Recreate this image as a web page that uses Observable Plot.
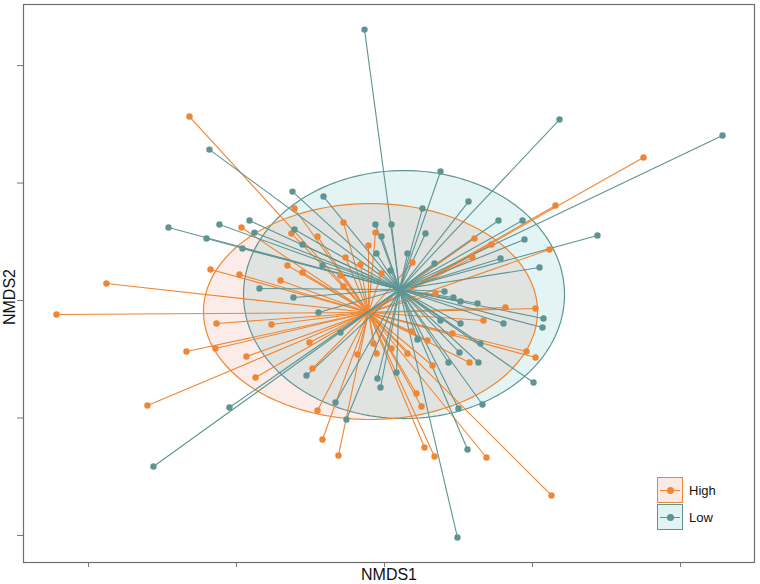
<!DOCTYPE html>
<html>
<head>
<meta charset="utf-8">
<script src="https://cdn.jsdelivr.net/npm/d3@7"></script>
<script src="https://cdn.jsdelivr.net/npm/@observablehq/plot@0.6"></script>
<style>
  body { margin: 0; background: #fff; font-family: "Liberation Sans", Arial, Helvetica, sans-serif; }
  #wrap { position: relative; width: 760px; height: 584px; }
  .lab { position: absolute; font-size: 16px; color: #111; white-space: nowrap; }
  .leg { position: absolute; width: 26px; height: 26px; box-sizing: border-box; border: 1px solid; }
  .leg .ln { position: absolute; left: 2px; right: 2px; top: 12px; height: 1px; }
  .leg .dt { position: absolute; left: 9px; top: 9px; width: 7px; height: 7px; border-radius: 50%; }
  .legtxt { position: absolute; font-size: 13px; color: #111; }
</style>
</head>
<body>
<div id="wrap"></div>
<script>
// ---- data (NMDS scores) ----
const groups = ["High", "Low"];
const highX = [-0.2635,0.35,0.2311,0.223,-0.3757,-0.4432,-0.2676,-0.3203,-0.0838,-0.0622,0.0541,0.0676,0.1378,0.2257,0.2041,0.1635,0.1919,0.2041,-0.1216,-0.1932,-0.1257,-0.0905,-0.0554,-0.2351,-0.1959,-0.1311,-0.1108,-0.1405,-0.227,-0.1527,-0.2284,-0.1865,-0.1014,-0.1743,-0.0973,-0.0905,-0.0527,-0.0595,-0.0122,-0.0216,-0.0324,-0.0554,-0.0041,0.0378,0.0689,0.1216,0.1446,0.1189,-0.0365,-0.0149,-0.0108,0.0095,0.0311,0.0365,0.0581,0.0649,0.0432,0.05,0.1338,0.0919,0.1149];
const highY = [0.3132,0.2434,0.1617,0.0868,0.0289,-0.0238,-0.0868,-0.1787,-0.2366,-0.2638,-0.2502,-0.2655,-0.2672,-0.3319,-0.0136,-0.0119,-0.0868,-0.097,0.1566,0.1243,0.114,0.1089,0.1328,0.0528,0.0443,0.0596,0.0477,0.034,-0.0391,-0.0409,-0.0817,-0.0953,-0.0715,-0.1311,-0.1157,-0.1872,0.0732,0.0426,0.1157,0.0936,0.0613,0.0238,0.046,0.0647,0.0119,0.1055,0.0953,0.0732,-0.0919,-0.0732,-0.0902,-0.0817,-0.0902,-0.0528,-0.0681,-0.1106,-0.1583,-0.1804,-0.034,-0.0562,-0.1055];
const lowX = [-0.027,0.2365,0.4568,-0.2365,-0.2919,-0.2405,-0.223,-0.1824,-0.1757,-0.1919,0.2878,-0.3122,-0.2095,0.0986,0.1122,0.2149,0.2135,0.2014,0.2095,0.1892,0.1865,0.1541,0.1568,0.1608,-0.1243,-0.0824,0.0514,-0.0122,0.0095,0.0554,-0.0041,-0.1216,-0.1108,-0.0108,0.0311,0.0676,-0.0838,0.0081,-0.123,-0.1689,-0.0892,0.0757,0.1135,0.0811,0.0932,0.1027,0.1257,0.1027,0.0757,0.1297,0.1014,0.0865,0.127,0.1324,0.1,-0.1054,-0.0095,-0.0054,0.0162,0.0446,-0.0662,-0.0514,-0.0595];
const lowY = [0.4613,0.3081,0.2809,0.257,0.1243,0.1055,0.1294,0.1362,0.1157,0.0885,0.1106,-0.2826,-0.1821,-0.4034,-0.2536,-0.0306,-0.046,-0.1396,0.0562,0.1038,0.1362,0.1362,0.0715,-0.0391,0.1855,0.177,0.1566,0.1294,0.1294,0.114,0.1089,0.1209,0.0953,0.08,0.08,0.063,0.0596,0.0511,0.0051,0.0204,-0.0204,0.2196,0.1685,0.0153,0.0051,-0.0017,-0.0051,-0.0391,-0.034,-0.0732,-0.0885,-0.1055,-0.1055,-0.177,-0.1838,-0.1277,-0.1328,-0.1481,-0.1226,-0.0664,-0.1736,-0.2026,-0.0545];
const centroidX = [-0.0216, 0.0203];
const centroidY = [-0.0204, 0.0187];
// ellipse parameters (centre and semi-axes, data units)
const ellipseCX = [-0.0189, 0.0264];
const ellipseCY = [-0.0187, 0.0102];
const ellipseRX = [0.2257, 0.2169];
const ellipseRY = [0.1838, 0.2111];
const xTicks = [-0.4, -0.2, 0, 0.2, 0.4];
const yTicks = [-0.4, -0.2, 0, 0.2, 0.4];

// ---- styles ----
const lineColor = {High: "#EF8633", Low: "#5E9593"};
const ellFill = {High: "#EB6C58", Low: "#0D9B9B"};
const ellOpacity = {High: 0.13, Low: 0.11};

// ---- build tables ----
function pts(g, xs, ys) {
  const i = groups.indexOf(g);
  return xs.map((x, k) => ({group: g, x, y: ys[k], cx: centroidX[i], cy: centroidY[i]}));
}
const highPts = pts("High", highX, highY);
const lowPts = pts("Low", lowX, lowY);
function ellipse(g) {
  const i = groups.indexOf(g);
  return d3.range(0, 181).map(k => {
    const t = k / 180 * 2 * Math.PI;
    return {group: g, x: ellipseCX[i] + ellipseRX[i] * Math.cos(t), y: ellipseCY[i] + ellipseRY[i] * Math.sin(t)};
  });
}

const ellFillMark = g => Plot.line(ellipse(g), {x: "x", y: "y", fill: ellFill[g], fillOpacity: ellOpacity[g], stroke: "none"});
const ellStrokeMark = g => Plot.line(ellipse(g), {x: "x", y: "y", fill: "none", stroke: lineColor[g], strokeWidth: 1.2});
const linkMark = (data, g) => Plot.link(data, {x1: "cx", y1: "cy", x2: "x", y2: "y", stroke: lineColor[g], strokeWidth: 1.1});
const dotMark = (data, g) => Plot.dot(data, {x: "x", y: "y", fill: lineColor[g], r: 3.2});

const chart = Plot.plot({
  width: 760, height: 584,
  marginLeft: 23, marginTop: 4, marginRight: 6, marginBottom: 22,
  x: {domain: [-0.4878, 0.5]},
  y: {domain: [-0.446, 0.504]},
  style: {background: "#fff"},
  marks: [
    ellFillMark("High"),
    ellFillMark("Low"),
    ellStrokeMark("Low"),
    ellStrokeMark("High"),
    linkMark(highPts, "High"),
    linkMark(lowPts, "Low"),
    dotMark(highPts, "High"),
    dotMark(lowPts, "Low"),
    Plot.axisX({ticks: xTicks, tickFormat: () => "", tickSize: 5, stroke: "#777", label: null}),
    Plot.axisY({ticks: yTicks, tickFormat: () => "", tickSize: 6, stroke: "#777", label: null}),
    Plot.frame({stroke: "#6e6e6e", strokeWidth: 1.2})
  ]
});

const wrap = document.getElementById("wrap");
wrap.appendChild(chart);

function addDiv(cls, css, html) {
  const d = document.createElement("div");
  d.className = cls;
  d.style.cssText = css;
  if (html != null) d.innerHTML = html;
  wrap.appendChild(d);
  return d;
}
// axis titles
addDiv("lab", "left:389px;top:575px;transform:translate(-50%,-50%);", "NMDS1");
addDiv("lab", "left:10px;top:297px;transform:translate(-50%,-50%) rotate(-90deg);", "NMDS2");
// legend
const legFill = {High: "#FCE9E5", Low: "#E1F3F3"};
groups.forEach((g, i) => {
  const top = 477 + i * 27;
  const b = addDiv("leg", `left:657px;top:${top}px;background:${legFill[g]};border-color:${lineColor[g]};`);
  const ln = document.createElement("div"); ln.className = "ln"; ln.style.background = lineColor[g]; b.appendChild(ln);
  const dt = document.createElement("div"); dt.className = "dt"; dt.style.background = lineColor[g]; b.appendChild(dt);
  addDiv("legtxt", `left:689px;top:${top + 13}px;transform:translateY(-50%);`, g);
});
</script>
</body>
</html>
